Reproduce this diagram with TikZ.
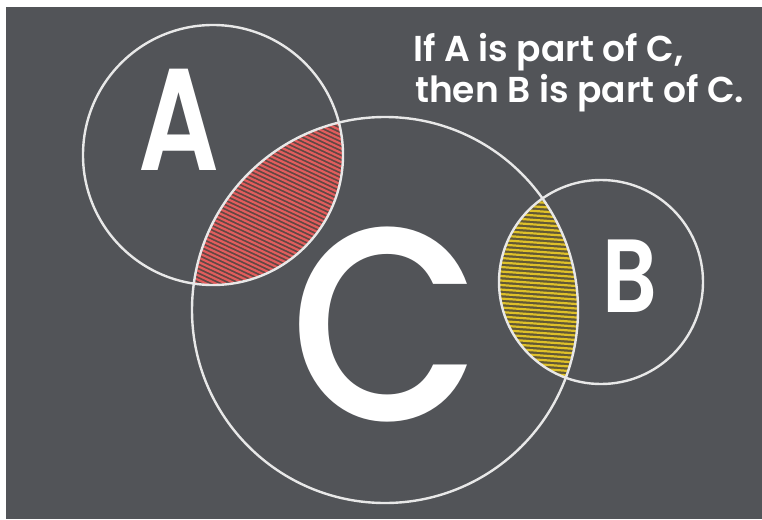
\documentclass[tikz,border=0pt]{standalone}
\usepackage{fontspec}
\setmainfont{Poppins}
\newfontfamily\semifont{Poppins SemiBold}
\newfontfamily\medfont{Poppins Medium}
\usetikzlibrary{positioning}
\definecolor{board}{RGB}{82,84,88}
\definecolor{chalk}{RGB}{232,232,232}
\definecolor{redchalk}{RGB}{226,92,92}
\definecolor{redbase}{RGB}{96,72,68}
\definecolor{yellowchalk}{RGB}{222,192,40}
\definecolor{yellowbase}{RGB}{98,88,54}

\begin{document}
\begin{tikzpicture}[x=1pt, y=-1pt,
    ring/.style={draw=chalk, line width=2.4pt},
    letter/.style={text=white, inner sep=0pt, anchor=base},
    caption/.style={text=white, inner sep=0pt, anchor=base west,
      font=\semifont\fontsize{36}{36}\selectfont}]
  \useasboundingbox (0, 0) rectangle (762, 519);
  \fill[white] (0, 0) rectangle (762, 519);
  \fill[board] (6, 7) rectangle (762, 519);

  \coordinate (ca) at (213, 155);
  \coordinate (cc) at (385, 310);
  \coordinate (cb) at (601, 282);

  \begin{scope}
    \clip (ca) circle (130);
    \clip (cc) circle (193);
    \fill[redbase] (150, 100) rectangle (400, 300);
    \foreach \k in {0, 4.5, ..., 250}
      \draw[redchalk, line width=2.2pt] (100, \k) -- ++(300, 140);
  \end{scope}

  \begin{scope}
    \clip (cb) circle (102);
    \clip (cc) circle (193);
    \fill[yellowbase] (480, 180) rectangle (600, 400);
    \foreach \k in {180, 184.5, ..., 400}
      \draw[yellowchalk, line width=2.2pt] (480, \k) -- ++(110, 8);
  \end{scope}

  \draw[ring] (ca) circle (130);
  \draw[ring] (cc) circle (193);
  \draw[ring] (cb) circle (102);

  \node[letter, font=\semifont\fontsize{145}{145}\selectfont] (la) at (179, 170) {\scalebox{0.78}[1]{A}};
  \node[letter, font=\semifont\fontsize{104}{104}\selectfont] (lb) at (630, 312) {\scalebox{0.82}[1]{B}};
  \node[letter, font=\medfont\fontsize{275}{275}\selectfont] (lc) at (386, 420) {\scalebox{0.9}[1]{C}};

  \node[caption] (line1) at (413, 62) {If A is part of C,};
  \node[caption] (line2) at (415, 102) {then B is part of C.};
\end{tikzpicture}
\end{document}
